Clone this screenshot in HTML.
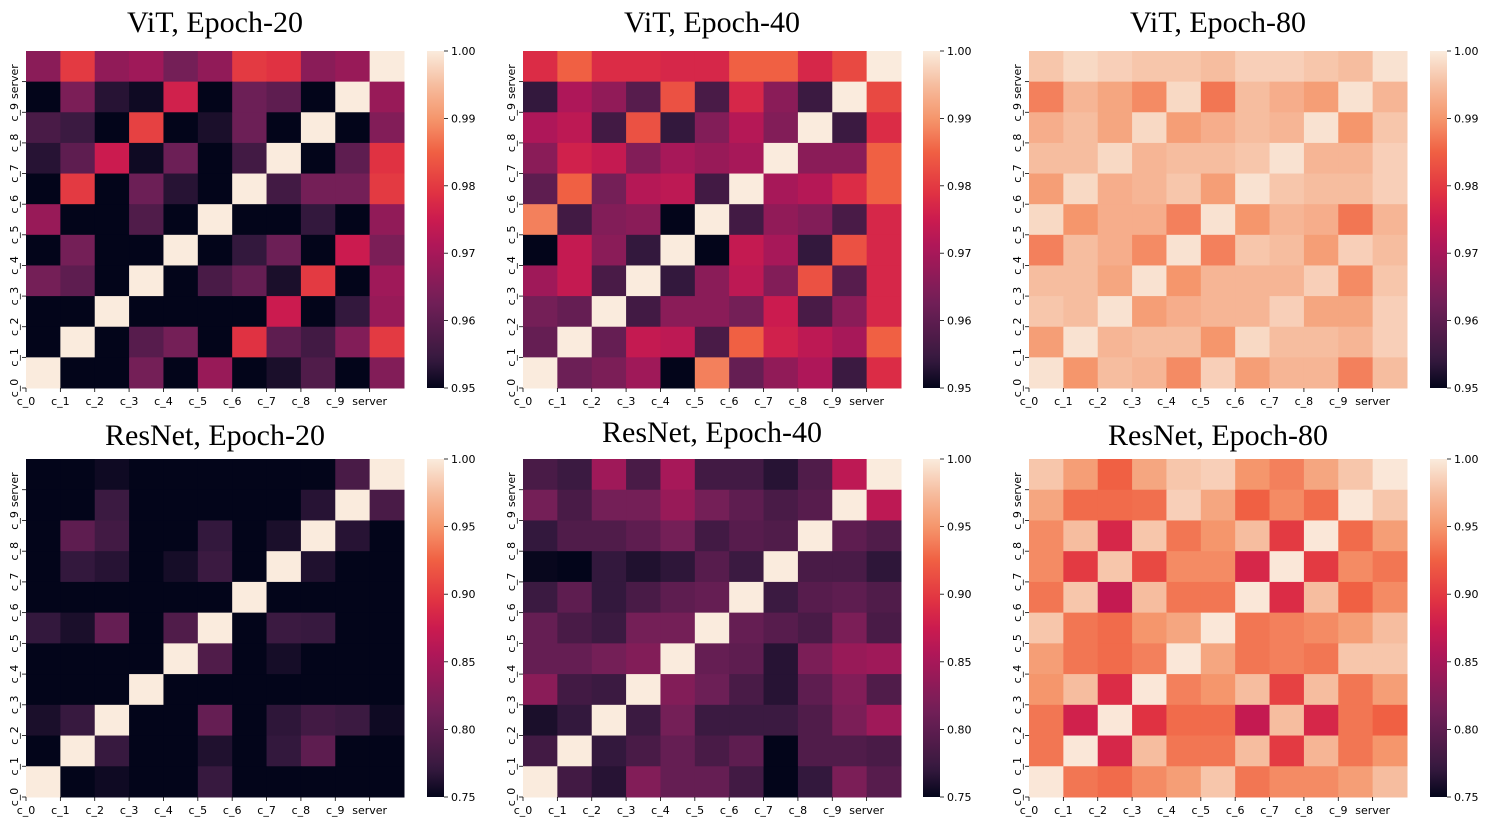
<!DOCTYPE html>
<html><head><meta charset="utf-8">
<style>
html,body{margin:0;padding:0;background:#fff;}
svg{display:block;}
</style></head>
<body>
<svg id="fig" width="1498" height="823" viewBox="0 0 1498 823" xmlns="http://www.w3.org/2000/svg"></svg>
<script>
const categories = ["c_0","c_1","c_2","c_3","c_4","c_5","c_6","c_7","c_8","c_9","server"];
// rows listed top-to-bottom (server, c_9 ... c_0); columns c_0..server
const vit20 = [
[0.966,0.980,0.967,0.969,0.963,0.967,0.980,0.979,0.966,0.968,1.0],
[0.950,0.964,0.953,0.951,0.976,0.950,0.962,0.960,0.950,1.0,0.968],
[0.957,0.955,0.950,0.981,0.950,0.952,0.962,0.950,1.0,0.950,0.965],
[0.953,0.960,0.975,0.951,0.962,0.950,0.956,1.0,0.950,0.960,0.979],
[0.950,0.980,0.950,0.962,0.953,0.950,1.0,0.956,0.963,0.963,0.980],
[0.968,0.950,0.950,0.958,0.950,1.0,0.950,0.950,0.954,0.950,0.967],
[0.950,0.963,0.950,0.950,1.0,0.950,0.954,0.962,0.950,0.975,0.964],
[0.963,0.960,0.950,1.0,0.950,0.957,0.961,0.952,0.980,0.950,0.969],
[0.950,0.950,1.0,0.950,0.950,0.950,0.950,0.975,0.950,0.954,0.968],
[0.950,1.0,0.950,0.959,0.963,0.950,0.979,0.960,0.956,0.965,0.980],
[1.0,0.950,0.950,0.963,0.950,0.968,0.950,0.952,0.958,0.950,0.965]];
const vit40 = [
[0.978,0.985,0.978,0.978,0.977,0.977,0.985,0.985,0.977,0.982,1.0],
[0.954,0.971,0.967,0.959,0.983,0.957,0.977,0.966,0.955,1.0,0.982],
[0.971,0.973,0.956,0.983,0.954,0.965,0.972,0.965,1.0,0.955,0.978],
[0.966,0.976,0.974,0.965,0.970,0.968,0.970,1.0,0.966,0.966,0.985],
[0.960,0.985,0.963,0.972,0.973,0.956,1.0,0.970,0.972,0.978,0.985],
[0.988,0.956,0.965,0.966,0.950,1.0,0.956,0.967,0.965,0.957,0.977],
[0.950,0.974,0.966,0.954,1.0,0.950,0.974,0.970,0.954,0.983,0.977],
[0.969,0.974,0.957,1.0,0.954,0.966,0.973,0.965,0.983,0.959,0.977],
[0.963,0.961,1.0,0.956,0.966,0.966,0.963,0.975,0.957,0.966,0.977],
[0.961,1.0,0.961,0.974,0.973,0.957,0.985,0.976,0.973,0.970,0.985],
[1.0,0.962,0.964,0.969,0.950,0.988,0.961,0.967,0.971,0.955,0.978]];
const vit80 = [
[0.996,0.998,0.997,0.996,0.996,0.995,0.997,0.997,0.996,0.995,0.999],
[0.988,0.994,0.992,0.989,0.998,0.987,0.995,0.993,0.991,0.999,0.994],
[0.993,0.995,0.992,0.998,0.991,0.993,0.995,0.994,0.999,0.990,0.996],
[0.995,0.995,0.998,0.994,0.995,0.995,0.996,0.999,0.994,0.994,0.997],
[0.991,0.998,0.993,0.994,0.996,0.991,0.999,0.996,0.995,0.995,0.997],
[0.998,0.990,0.993,0.993,0.988,0.999,0.990,0.994,0.993,0.987,0.994],
[0.988,0.995,0.993,0.989,0.999,0.988,0.996,0.995,0.991,0.997,0.995],
[0.995,0.995,0.992,0.999,0.990,0.994,0.994,0.994,0.997,0.989,0.996],
[0.996,0.995,0.999,0.991,0.993,0.994,0.994,0.997,0.992,0.992,0.997],
[0.991,0.999,0.994,0.995,0.995,0.990,0.998,0.995,0.995,0.994,0.997],
[0.999,0.990,0.995,0.994,0.989,0.997,0.991,0.994,0.994,0.988,0.995]];
const res20 = [
[.750,.750,.755,.750,.750,.750,.750,.750,.750,.785,1],
[.750,.750,.775,.750,.750,.750,.750,.750,.765,1,.785],
[.750,.800,.780,.750,.750,.770,.750,.760,1,.765,.750],
[.750,.770,.765,.750,.758,.775,.750,1,.762,.750,.750],
[.750,.750,.750,.750,.750,.750,1,.750,.750,.750,.750],
[.770,.760,.805,.750,.790,1,.750,.775,.772,.750,.750],
[.750,.750,.750,.750,1,.790,.750,.758,.750,.750,.750],
[.750,.750,.750,1,.750,.750,.750,.750,.750,.750,.750],
[.760,.772,1,.750,.750,.805,.750,.768,.780,.775,.755],
[.750,1,.772,.750,.750,.762,.750,.770,.800,.750,.750],
[1,.750,.755,.750,.750,.772,.750,.750,.750,.750,.750]];
const res40 = [
[.785,.775,.845,.785,.850,.780,.780,.765,.790,.865,1],
[.815,.785,.815,.815,.840,.815,.800,.785,.795,1,.865],
[.770,.790,.790,.800,.815,.780,.795,.790,1,.800,.790],
[.752,.750,.770,.762,.768,.795,.775,1,.785,.785,.768],
[.775,.800,.770,.785,.800,.805,1,.775,.795,.800,.790],
[.805,.785,.775,.815,.815,1,.805,.795,.785,.820,.785],
[.805,.805,.815,.825,1,.805,.800,.765,.820,.840,.845],
[.830,.780,.775,1,.825,.810,.785,.765,.800,.825,.790],
[.760,.770,1,.775,.815,.775,.775,.775,.790,.820,.845],
[.780,1,.770,.785,.805,.785,.800,.750,.790,.790,.785],
[1,.780,.765,.825,.805,.805,.780,.750,.770,.820,.795]];
const res80 = [
[.980,.955,.925,.960,.980,.985,.950,.940,.960,.980,.998],
[.960,.930,.930,.932,.985,.960,.925,.945,.930,.998,.980],
[.945,.975,.885,.980,.935,.950,.975,.900,.998,.930,.955],
[.945,.900,.980,.910,.945,.945,.885,.998,.900,.945,.935],
[.935,.980,.870,.975,.935,.935,.998,.890,.975,.925,.945],
[.980,.935,.930,.950,.960,.998,.935,.940,.945,.955,.975],
[.955,.935,.930,.940,.998,.960,.935,.940,.935,.980,.980],
[.950,.975,.890,.998,.940,.950,.975,.905,.975,.935,.955],
[.935,.880,.998,.895,.930,.930,.870,.975,.885,.935,.925],
[.935,.998,.885,.975,.935,.935,.975,.900,.970,.935,.950],
[.998,.935,.930,.945,.955,.980,.935,.945,.945,.955,.975]];
const vitTicks = ["0.95","0.96","0.97","0.98","0.99","1.00"];
const resTicks = ["0.75","0.80","0.85","0.90","0.95","1.00"];
const titles = ["ViT, Epoch-20","ViT, Epoch-40","ViT, Epoch-80","ResNet, Epoch-20","ResNet, Epoch-40","ResNet, Epoch-80"];

const stops=[[0,[3,5,26]],[0.083,[53,25,62]],[0.25,[112,31,87]],[0.417,[173,23,89]],[0.5,[203,27,79]],[0.583,[225,51,66]],[0.7,[240,96,67]],[0.8,[245,150,108]],[0.9,[246,189,159]],[1,[250,235,221]]];
function rocket(t){t=Math.max(0,Math.min(1,t));for(let i=1;i<stops.length;i++){if(t<=stops[i][0]){const a=stops[i-1],b=stops[i],f=(t-a[0])/(b[0]-a[0]);return 'rgb('+a[1].map((v,k)=>Math.round(v+(b[1][k]-v)*f)).join(',')+')';}}return 'rgb(250,235,221)';}
const NS="http://www.w3.org/2000/svg";
const svg=document.getElementById('fig');
function mk(tag,attrs,parent){const e=document.createElementNS(NS,tag);for(const k in attrs)e.setAttribute(k,attrs[k]);(parent||svg).appendChild(e);return e;}
const FONT='"DejaVu Sans","Liberation Sans",sans-serif';
const panels=[
 {d:vit20,t:vitTicks,x:26,y:51,h:337,cb:427,title:titles[0],ty:32,name:'vit-epoch-20'},
 {d:vit40,t:vitTicks,x:523,y:51,h:337,cb:923,title:titles[1],ty:32,name:'vit-epoch-40'},
 {d:vit80,t:vitTicks,x:1029,y:51,h:337,cb:1430,title:titles[2],ty:32,name:'vit-epoch-80'},
 {d:res20,t:resTicks,x:26,y:459,h:338,cb:427,title:titles[3],ty:445,name:'resnet-epoch-20'},
 {d:res40,t:resTicks,x:523,y:459,h:338,cb:923,title:titles[4],ty:442,name:'resnet-epoch-40'},
 {d:res80,t:resTicks,x:1029,y:459,h:338,cb:1430,title:titles[5],ty:445,name:'resnet-epoch-80'}];
panels.forEach(p=>{
 const g=mk('g',{});
 
 
 const W=378,n=categories.length,cw=W/n,ch=p.h/n;
 const vmin=parseFloat(p.t[0]),vmax=parseFloat(p.t[p.t.length-1]);
 const xs=j=>p.x+j*cw, ys=i=>p.y+i*ch;
 const norm=v=>(v-vmin)/(vmax-vmin);
 const tt=mk('text',{x:p.x+W/2,y:p.ty,'text-anchor':'middle','font-family':'"Liberation Serif",serif','font-size':30,fill:'#000'},g);
 tt.textContent=p.title;
 
 
 p.d.forEach((row,i)=>row.forEach((v,j)=>{
  const r=mk('rect',{x:xs(j),y:ys(i),width:cw+0.5,height:ch+0.5,fill:rocket(norm(v))},g);
  
  
 }));
 categories.forEach((c,j)=>{
  const X=xs(j);
  mk('line',{x1:X,y1:p.y+p.h,x2:X,y2:p.y+p.h+4,stroke:'#000','stroke-width':0.8},g);
  const t=mk('text',{x:X,y:p.y+p.h+17,'text-anchor':'middle','font-family':FONT,'font-size':11,fill:'#000'},g);
  t.textContent=c;
  
  
  const Y=ys(n-1-j)+ch;
  mk('line',{x1:p.x-4,y1:Y,x2:p.x,y2:Y,stroke:'#000','stroke-width':0.8},g);
  const yt=mk('text',{x:0,y:0,'text-anchor':'middle','font-family':FONT,'font-size':11,fill:'#000',transform:'translate('+(p.x-8)+','+Y+') rotate(-90)'},g);
  yt.textContent=c;
  
  
 });
 const defsId='grad-'+p.name;
 const defs=mk('defs',{},g);
 const lg=mk('linearGradient',{id:defsId,x1:0,y1:1,x2:0,y2:0},defs);
 for(let k=0;k<=40;k++){mk('stop',{offset:(k/40),'stop-color':rocket(k/40)},lg);}
 const cbr=mk('rect',{x:p.cb,y:p.y,width:17,height:p.h,fill:'url(#'+defsId+')'},g);
 
 
 p.t.forEach(lbl=>{
  const Y=p.y+p.h-norm(parseFloat(lbl))*p.h;
  mk('line',{x1:p.cb+17,y1:Y,x2:p.cb+21,y2:Y,stroke:'#000','stroke-width':0.8},g);
  const t=mk('text',{x:p.cb+24,y:Y+4,'font-family':FONT,'font-size':11,fill:'#000'},g);
  t.textContent=lbl;
  
  
 });
});
</script>
</body></html>
